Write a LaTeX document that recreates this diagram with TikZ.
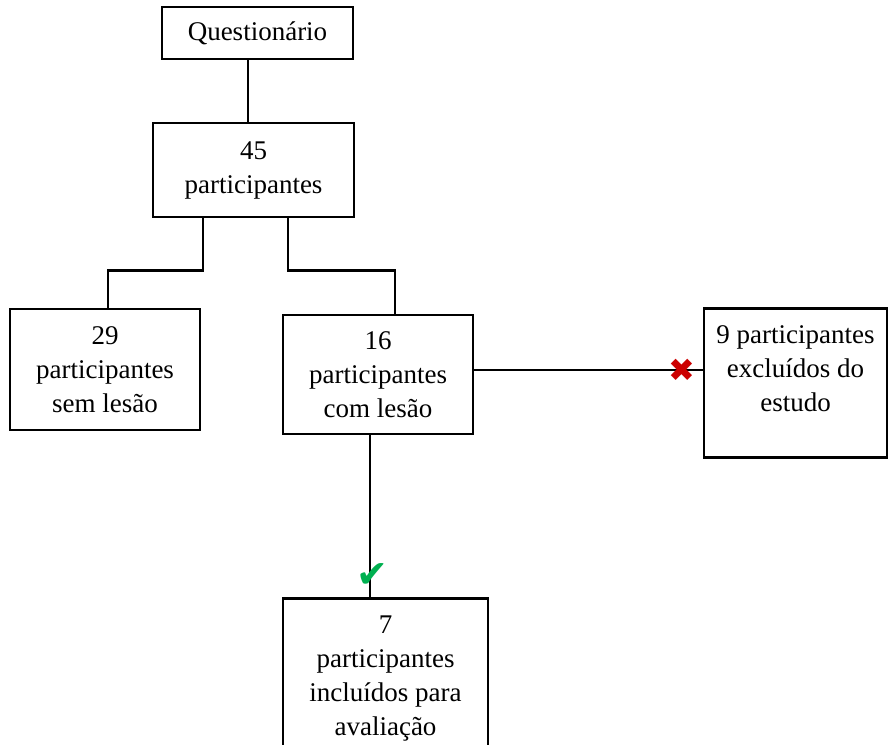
\documentclass[tikz,border=0pt]{standalone}
\usepackage{fontspec}
\setmainfont{Liberation Serif}
\newfontfamily\symbfont{DejaVu Sans}
\usetikzlibrary{positioning}

\definecolor{markred}{RGB}{204,0,0}
\definecolor{markgreen}{RGB}{0,176,80}

\tikzset{
  box/.style={draw, line width=2.5pt, align=center, inner sep=0pt,
    font=\fontsize{27}{34}\selectfont},
  topbox/.style={box, anchor=north, inner ysep=17.5pt, text depth=28.5pt},
  link/.style={line width=2.5pt},
}

\begin{document}
\begin{tikzpicture}[x=1pt,y=1pt]
	\useasboundingbox (0,0) rectangle (891,-744);
	% caixas
	\node[box, minimum width=191pt, minimum height=52pt] (quest) at (257.5,-33) {Questionário};
	\node[box, minimum width=201pt, minimum height=94pt] (n45) at (253.5,-170) {45\\participantes};
	\node[box, minimum width=190pt, minimum height=121pt] (n29) at (105,-369.5) {29\\participantes\\sem lesão};
	\node[box, minimum width=190pt, minimum height=119pt] (n16) at (378,-374.5) {16\\participantes\\com lesão};
	\node[topbox, minimum width=183pt] (n9) at (795.5,-307) {9 participantes\\excluídos do\\estudo};
	\node[topbox, minimum width=205pt] (n7) at (385.5,-597) {7\\participantes\\incluídos para\\avaliação};
	% ligacoes
	\draw[link] ([xshift=-9.5pt]quest.south) -- ([xshift=-9.5pt]quest.south |- n45.north);
	\draw[link] ([xshift=-50.5pt]n45.south) -- ++(0,-52) -| ([xshift=3pt]n29.north);
	\draw[link] ([xshift=34.5pt]n45.south) -- ++(0,-52) -| ([xshift=17pt]n16.north);
	\draw[link] ([yshift=4.5pt]n16.east) -- ([yshift=4.5pt]n16.east -| n9.west);
	\draw[link] ([xshift=-8pt]n16.south) -- ([xshift=-8pt]n16.south |- n7.north);
	% marcas
	\node[text=markred, font=\symbfont\fontsize{32}{32}\selectfont, inner sep=0pt] (excl) at (682,-370) {✖};
	\node[text=markgreen, font=\symbfont\fontsize{38}{38}\selectfont, inner sep=0pt] (incl) at (372,-576) {✔};
\end{tikzpicture}
\end{document}
